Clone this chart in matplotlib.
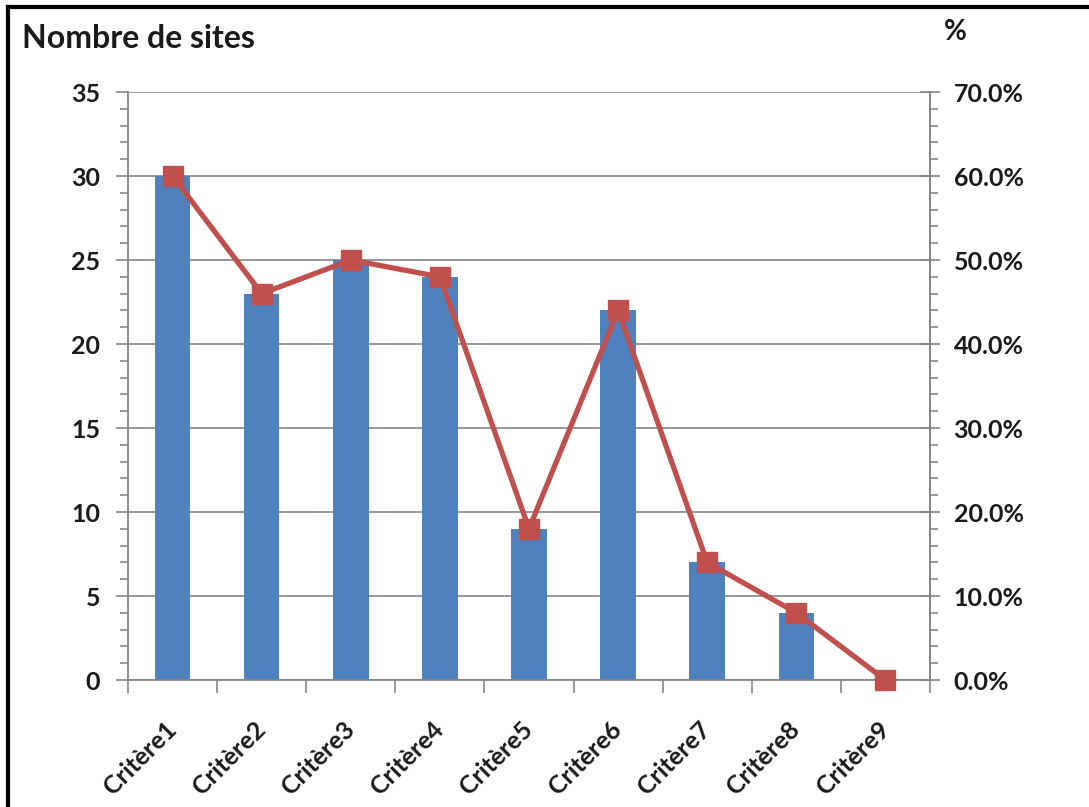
import matplotlib
matplotlib.use("Agg")
import matplotlib.pyplot as plt
from matplotlib.ticker import MultipleLocator, FuncFormatter, FixedLocator
import numpy as np

categories = ["Critère1", "Critère2", "Critère3", "Critère4", "Critère5",
              "Critère6", "Critère7", "Critère8", "Critère9"]
sites = [30, 23, 25, 24, 9, 22, 7, 4, 0]
percent = [60.0, 46.0, 50.0, 48.0, 18.0, 44.0, 14.0, 8.0, 0.0]

plt.rcParams['font.family'] = ['Lato', 'DejaVu Sans']
plt.rcParams['font.weight'] = 'bold'

BAR = "#4F81BD"
LINE = "#C0504D"
GREY = "#868686"
TXT = "#1a1a1a"
FS = 18

fig = plt.figure(figsize=(10.89, 8.07), dpi=100)
ax = fig.add_axes([128 / 1089, 1 - 680 / 807, (930 - 128) / 1089, (680 - 92) / 807])

x = np.arange(len(categories))
ax.bar(x, sites, width=0.4, color=BAR, zorder=2)
ax.set_xlim(-0.5, len(categories) - 0.5)
ax.set_ylim(0, 35)
ax.yaxis.set_major_locator(MultipleLocator(5))
ax.yaxis.set_minor_locator(MultipleLocator(1))
ax.grid(axis='y', which='major', color=GREY, linewidth=1.2, zorder=0)
ax.set_axisbelow(True)

ax.spines['top'].set_visible(False)
for s in ['left', 'bottom', 'right']:
    ax.spines[s].set_color(GREY)
    ax.spines[s].set_linewidth(1.3)

ax.tick_params(axis='y', which='major', length=9, width=1.2, color=GREY,
               labelsize=FS, pad=11)
ax.tick_params(axis='y', which='minor', length=6, width=1.2, color=GREY)

ax.set_xticks(x)
ax.set_xticklabels(categories)
ax.xaxis.set_minor_locator(FixedLocator(np.arange(-0.5, len(categories), 1.0)))
ax.tick_params(axis='x', which='major', length=0, labelsize=FS, pad=33)
ax.tick_params(axis='x', which='minor', length=9, width=1.2, color=GREY)
for lbl in ax.get_xticklabels():
    lbl.set_rotation(45)
    lbl.set_rotation_mode('anchor')
    lbl.set_ha('right')
    lbl.set_va('center')
    lbl.set_color(TXT)
for lbl in ax.get_yticklabels():
    lbl.set_color(TXT)

ax2 = ax.twinx()
ax2.set_ylim(0, 70)
ax2.plot(x, percent, color=LINE, linewidth=3.8, marker='s', markersize=14,
         markerfacecolor=LINE, markeredgecolor=LINE, zorder=3, clip_on=False)
ax2.yaxis.set_major_locator(MultipleLocator(10))
ax2.yaxis.set_minor_locator(MultipleLocator(2))
ax2.yaxis.set_major_formatter(FuncFormatter(lambda v, p: f"{v:.1f}%"))
ax2.tick_params(axis='y', which='major', direction='inout', length=14, width=1.2,
                color=GREY, labelsize=FS, pad=10)
ax2.tick_params(axis='y', which='minor', length=6, width=1.2, color=GREY)
for s in ['top', 'left', 'bottom']:
    ax2.spines[s].set_visible(False)
ax2.spines['right'].set_color(GREY)
ax2.spines['right'].set_linewidth(1.3)
for lbl in ax2.get_yticklabels():
    lbl.set_color(TXT)

fig.text(22 / 1089, 1 - 38 / 807, "Nombre de sites", fontsize=23, fontweight='bold',
         ha='left', va='center', color=TXT)
fig.text(955 / 1089, 1 - 32 / 807, "%", fontsize=20, fontweight='bold',
         ha='center', va='center', color=TXT)

# frame around the chart area
fig.add_artist(plt.Line2D([8 / 1089, 8 / 1089], [0, 1 - 7 / 807],
                          transform=fig.transFigure, color='black', linewidth=3))
fig.add_artist(plt.Line2D([8 / 1089, 1], [1 - 7 / 807, 1 - 7 / 807],
                          transform=fig.transFigure, color='black', linewidth=3))

fig.savefig("out.png", dpi=100)
